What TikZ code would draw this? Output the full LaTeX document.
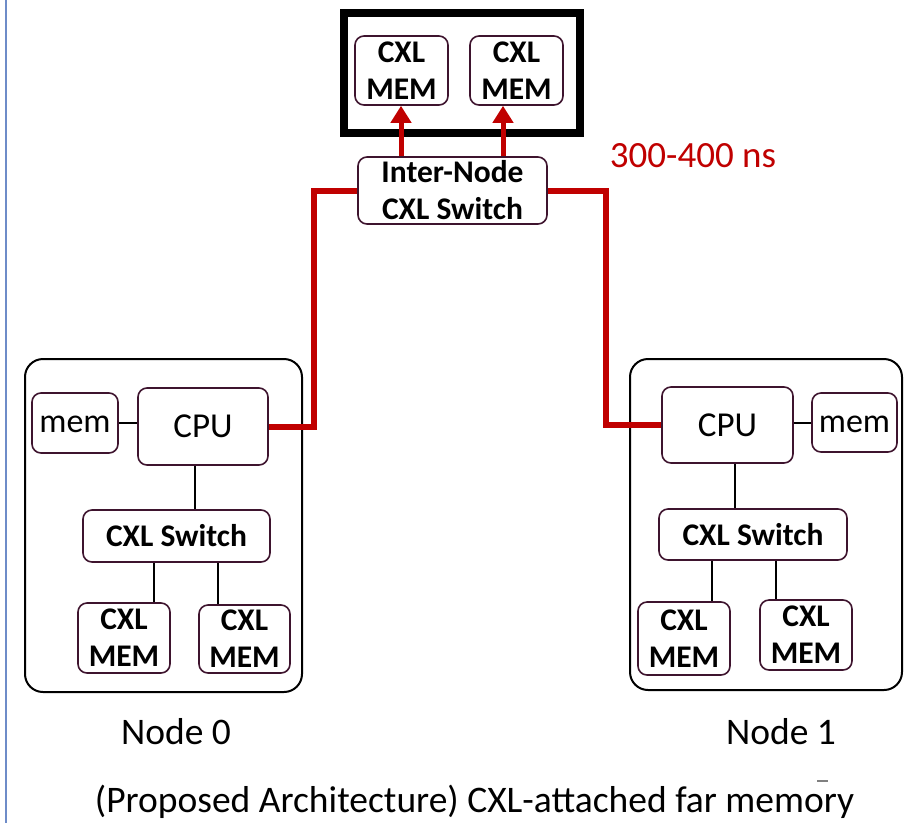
\documentclass[tikz,border=0pt]{standalone}
\usepackage{fontspec}
\setmainfont{Carlito}
\usetikzlibrary{arrows.meta}
\definecolor{boxc}{RGB}{62,20,46}
\definecolor{linkred}{RGB}{192,0,0}
\definecolor{rulerblue}{RGB}{110,140,200}
\tikzset{
  box/.style={draw=boxc, line width=1.6pt, rounded corners=9pt, inner sep=0pt,
    align=center, font=\bfseries\fontsize{31.5}{37}\selectfont},
  plainbox/.style={box, font=\fontsize{35}{40}\selectfont},
  membox/.style={box, font=\fontsize{34}{40}\selectfont, text height=19pt, text depth=0pt},
  hostbox/.style={draw=black, line width=2pt, rounded corners=18pt},
  wire/.style={draw=black, line width=1.2pt},
  redlink/.style={draw=linkred, line width=6pt, line join=miter},
  redarrow/.style={draw=linkred, line width=5pt,
    -{Triangle[width=20pt,length=17pt]}},
  label/.style={font=\fontsize{37.5}{42}\selectfont}
}
\begin{document}
\begin{tikzpicture}[x=1pt,y=-1pt]
\useasboundingbox (0,0) rectangle (905,823);

% margin rule on the left edge
\draw[rulerblue, line width=2pt] (6,0) -- (6,823);

% far-memory enclosure
\draw[black, line width=8pt] (344,13) rectangle (580,133);
\node[box, minimum width=93pt, minimum height=69pt] (fm1) at (401.5,70.5) {CXL\\MEM};
\node[box, minimum width=93pt, minimum height=69pt] (fm2) at (516.5,70.5) {CXL\\MEM};

% inter-node switch
\node[box, minimum width=189pt, minimum height=67pt] (inter) at (452.5,190.5) {Inter-Node\\CXL Switch};

\draw[redarrow] (inter.north -| 401,0) -- (fm1.south -| 401,0);
\draw[redarrow] (inter.north -| 503,0) -- (fm2.south -| 503,0);

\node[font=\fontsize{37}{42}\selectfont, text=linkred] (lat) at (693,156) {300-400 ns};

% host node 0
\draw[hostbox] (25,359) rectangle (302,692);
\node[membox, minimum width=86pt, minimum height=60pt] (mem0) at (75,423) {mem};
\node[plainbox, minimum width=130pt, minimum height=77pt] (cpu0) at (203,426.5) {CPU};
\node[box, minimum width=187pt, minimum height=52pt] (sw0) at (176.5,536) {CXL Switch};
\node[box, minimum width=92pt, minimum height=70pt] (m0a) at (124,638) {CXL\\MEM};
\node[box, minimum width=91pt, minimum height=68pt] (m0b) at (244.5,639) {CXL\\MEM};
\draw[wire, line width=2pt] (mem0.east) -- (mem0.east -| cpu0.west);
\draw[wire] (cpu0.south -| 195,0) -- (sw0.north -| 195,0);
\draw[wire] (sw0.south -| 154,0) -- (m0a.north -| 154,0);
\draw[wire] (sw0.south -| 218,0) -- (m0b.north -| 218,0);
\node[label] (n0) at (176,732) {Node 0};

% host node 1
\draw[hostbox] (630,359) rectangle (902,690);
\node[plainbox, minimum width=131pt, minimum height=76pt] (cpu1) at (727.5,425) {CPU};
\node[membox, minimum width=85pt, minimum height=59pt] (mem1) at (854.5,422.5) {mem};
\node[box, minimum width=188pt, minimum height=51pt] (sw1) at (753,534.5) {CXL Switch};
\node[box, minimum width=92pt, minimum height=73pt] (m1a) at (684,638.5) {CXL\\MEM};
\node[box, minimum width=92pt, minimum height=70pt] (m1b) at (806,635) {CXL\\MEM};
\draw[wire, line width=2pt] (mem1.west) -- (mem1.west -| cpu1.east);
\draw[wire] (cpu1.south -| 735,0) -- (sw1.north -| 735,0);
\draw[wire] (sw1.south -| 712,0) -- (m1a.north -| 712,0);
\draw[wire] (sw1.south -| 776,0) -- (m1b.north -| 776,0);
\node[label] (n1) at (781,732) {Node 1};

% inter-node links
\draw[redlink] (inter.west) -- ++(-43,0) |- (cpu0.east);
\draw[redlink] (inter.east) -- ++(58,0) |- (cpu1.west);

% stray tick mark
\draw[gray, line width=2pt] (817,781) -- (828,781);

% caption
\node[label] (cap) at (474.5,802) {(Proposed Architecture) CXL-attached far memory};
\end{tikzpicture}
\end{document}
